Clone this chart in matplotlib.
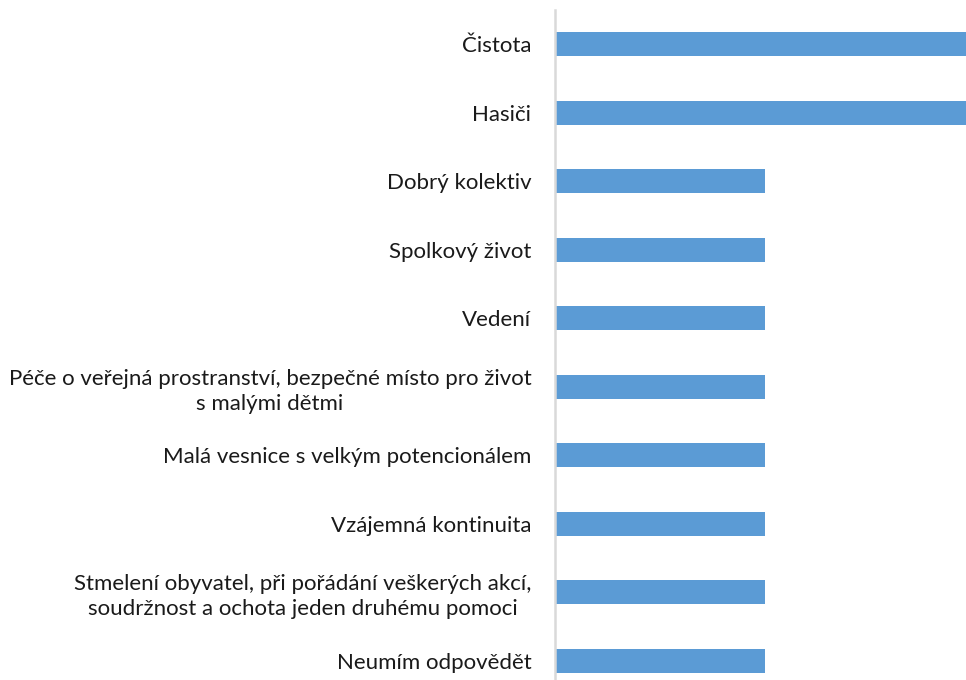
import matplotlib.pyplot as plt

categories = [
    "Čistota",
    "Hasiči",
    "Dobrý kolektiv",
    "Spolkový život",
    "Vedení",
    "Péče o veřejná prostranství, bezpečné místo pro život\ns malými dětmi",
    "Malá vesnice s velkým potencionálem",
    "Vzájemná kontinuita",
    "Stmelení obyvatel, při pořádání veškerých akcí,\nsoudržnost a ochota jeden druhému pomoci",
    "Neumím odpovědět",
]
values = [2, 2, 1, 1, 1, 1, 1, 1, 1, 1]

plt.rcParams['font.family'] = ['Lato', 'DejaVu Sans']

fig = plt.figure(figsize=(9.66, 6.80), dpi=100)
ax = fig.add_axes([555 / 966, 0.0, 411 / 966, 1 - 10 / 680])

pos = list(range(len(categories)))
ax.barh(pos, values, height=0.35, color="#5B9BD5", zorder=2)

ax.set_xlim(0, 411 / 210)
ax.set_ylim(9 + 19 / 68.56, -0.5)

ax.set_yticks(pos)
ax.set_yticklabels(categories, fontsize=16, color="#1a1a1a", ha="right",
                   multialignment="center", linespacing=1.3)
ax.tick_params(axis="y", length=0, pad=17)
ax.set_xticks([])

for s in ["top", "right", "bottom"]:
    ax.spines[s].set_visible(False)
ax.spines["left"].set_color("#d9d9d9")
ax.spines["left"].set_linewidth(1.8)
ax.spines["left"].set_zorder(3)

fig.savefig("out.png", dpi=100, facecolor="white")
